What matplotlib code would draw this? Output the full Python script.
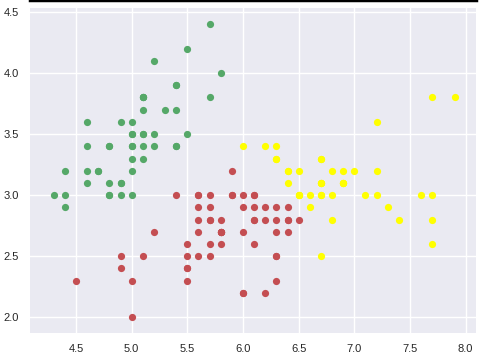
import matplotlib
matplotlib.use("Agg")
import matplotlib.pyplot as plt
from matplotlib.lines import Line2D

# Cluster 0 (green)
green_x = [5.1, 4.9, 4.7, 4.6, 5.0, 5.4, 4.6, 5.0, 4.4, 4.9, 5.4, 4.8, 4.8, 4.3, 5.8, 5.7, 5.4,
           5.1, 5.7, 5.1, 5.4, 5.1, 4.6, 5.1, 4.8, 5.0, 5.0, 5.2, 5.2, 4.7, 4.8, 5.4, 5.2, 5.5,
           4.9, 5.0, 5.5, 4.9, 4.4, 5.1, 5.0, 4.4, 5.0, 5.1, 4.8, 5.1, 4.6, 5.3, 5.0]
green_y = [3.5, 3.0, 3.2, 3.1, 3.6, 3.9, 3.4, 3.4, 2.9, 3.1, 3.7, 3.4, 3.0, 3.0, 4.0, 4.4, 3.9,
           3.5, 3.8, 3.8, 3.4, 3.7, 3.6, 3.3, 3.4, 3.0, 3.4, 3.5, 3.4, 3.2, 3.1, 3.4, 4.1, 4.2,
           3.1, 3.2, 3.5, 3.6, 3.0, 3.4, 3.5, 3.2, 3.5, 3.8, 3.0, 3.8, 3.2, 3.7, 3.3]

# Cluster 1 (red)
red_x = [4.5, 5.5, 6.5, 5.7, 4.9, 5.2, 5.0, 5.9, 6.0, 6.1, 5.6, 5.6, 5.8, 6.2, 5.6, 5.9, 6.1,
         6.3, 6.1, 6.4, 6.0, 5.7, 5.5, 5.5, 5.8, 6.0, 5.4, 6.3, 5.6, 5.5, 5.5, 6.1, 5.8, 5.0,
         5.6, 5.7, 5.7, 6.2, 5.1, 5.7, 5.8, 6.3, 4.9, 6.4, 5.7, 5.8, 6.0, 5.6, 6.3, 6.2, 6.1,
         6.4, 6.4, 6.3, 6.1, 6.0, 5.8, 6.3, 5.9]
red_y = [2.3, 2.3, 2.8, 2.8, 2.4, 2.7, 2.0, 3.0, 2.2, 2.9, 2.9, 3.0, 2.7, 2.2, 2.5, 3.2, 2.8,
         2.5, 2.8, 2.9, 2.9, 2.6, 2.4, 2.4, 2.7, 2.7, 3.0, 2.3, 3.0, 2.5, 2.6, 3.0, 2.6, 2.3,
         2.7, 3.0, 2.9, 2.9, 2.5, 2.8, 2.7, 2.9, 2.5, 2.7, 2.5, 2.8, 2.2, 2.8, 2.7, 2.8, 3.0,
         2.8, 2.8, 2.8, 2.6, 3.0, 2.7, 2.5, 3.0]

# Cluster 2 (yellow)
yellow_x = [7.0, 6.4, 6.9, 6.3, 6.6, 6.7, 6.6, 6.8, 6.7, 6.0, 6.7, 6.3, 7.1, 6.5, 7.6, 7.3,
            6.7, 7.2, 6.5, 6.8, 6.4, 6.5, 7.7, 7.7, 6.9, 7.7, 6.7, 7.2, 7.2, 7.4, 7.9, 7.7,
            6.3, 6.4, 6.9, 6.7, 6.9, 6.8, 6.7, 6.7, 6.5, 6.2]
yellow_y = [3.2, 3.2, 3.1, 3.3, 2.9, 3.1, 3.0, 2.8, 3.0, 3.4, 3.1, 3.3, 3.0, 3.0, 3.0, 2.9,
            2.5, 3.6, 3.2, 3.0, 3.2, 3.0, 3.8, 2.6, 3.2, 2.8, 3.3, 3.2, 3.0, 2.8, 3.8, 3.0,
            3.4, 3.1, 3.1, 3.1, 3.1, 3.2, 3.3, 3.0, 3.0, 3.4]

x_ticks = [4.5, 5.0, 5.5, 6.0, 6.5, 7.0, 7.5, 8.0]
y_ticks = [2.0, 2.5, 3.0, 3.5, 4.0, 4.5]

fig = plt.figure(figsize=(4.85, 3.6), dpi=100)
fig.patch.set_facecolor("white")
ax = fig.add_axes([30 / 485, 1 - 333 / 360, 446 / 485, 325 / 360])
ax.set_facecolor("#EAEAF2")
for s in ax.spines.values():
    s.set_visible(False)
ax.set_axisbelow(True)
ax.grid(True, color="white", linewidth=1.0)

kw = dict(s=27, linewidths=0, zorder=3)
ax.scatter(green_x, green_y, color="#55A868", **kw)
ax.scatter(red_x, red_y, color="#C44E52", **kw)
ax.scatter(yellow_x, yellow_y, color="#FFFF00", **kw)

ax.set_xlim(4.087, 8.093)
ax.set_ylim(1.871, 4.533)
ax.set_xticks(x_ticks)
ax.set_yticks(y_ticks)
ax.set_xticklabels([f"{v:.1f}" for v in x_ticks])
ax.set_yticklabels([f"{v:.1f}" for v in y_ticks])
ax.tick_params(length=0, pad=8, labelsize=8, colors="#262626")
for lab in ax.get_xticklabels() + ax.get_yticklabels():
    lab.set_family(["Liberation Sans", "DejaVu Sans"])

fig.add_artist(Line2D([30 / 485, 476 / 485], [1, 1], transform=fig.transFigure,
                      color="black", linewidth=2.5))

fig.savefig("out.png", dpi=100)
